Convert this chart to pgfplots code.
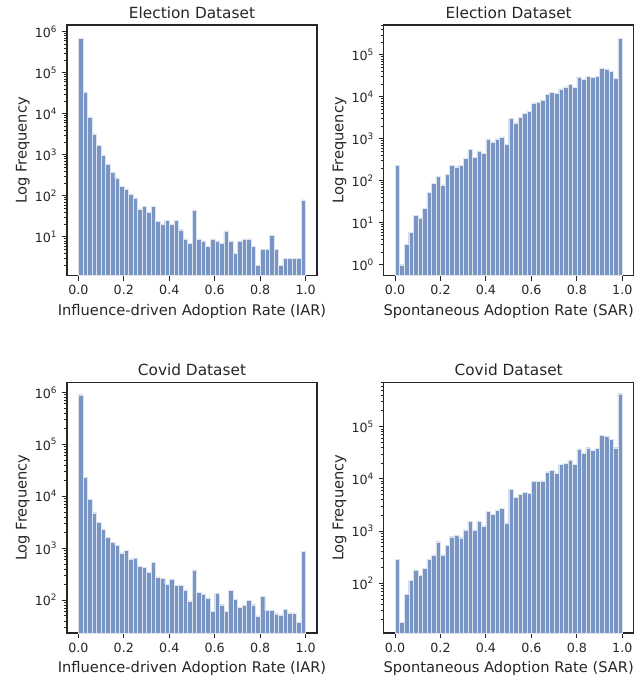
\documentclass[border=0pt]{standalone}
\usepackage{fontspec}
\setmainfont{DejaVu Sans}
\usepackage{pgfplots}
\usepackage{pgfplotstable}
\pgfplotsset{compat=1.18}
\usepgfplotslibrary{groupplots}
\definecolor{barblue}{HTML}{7895C4}
\definecolor{ink}{HTML}{262626}

% left bin edge, counts per bin (last row only closes the intervals)
\pgfplotstableread{
x    eiar   esar   ciar   csar
0.00 690000 236    900000 290
0.02 34000  1      23300  18
0.04 8450   3      8750   62
0.06 3250   6      4840   113
0.08 1720   15     3200   181
0.10 980    13     2310   141
0.12 605    22     1600   195
0.14 378    54     1300   290
0.16 275    88     1135   351
0.18 172    129    819    625
0.20 148    80     922    351
0.22 108    142    627    540
0.24 89     232    656    781
0.26 48     215    446    841
0.28 56     236    434    747
0.30 41     340    352    1050
0.32 56     557    541    1520
0.34 24     359    282    1050
0.36 20     518    266    1520
0.38 25     456    204    1253
0.40 20     1000   258    2400
0.42 25     849    195    2100
0.44 15     1000   192    2510
0.46 9      1116   158    2700
0.48 7      733    97     1430
0.50 45     3050   385    6280
0.52 9      2405   141    4400
0.54 8      3220   132    5030
0.56 6      4010   111    5580
0.58 9      4560   62     5340
0.60 8      7200   134    8960
0.62 7      7470   82     8960
0.64 14     8490   62     9100
0.66 8      11370  156    13560
0.68 4      12680  103    14600
0.70 8      12220  74     12590
0.72 9      15490  81     18780
0.74 9      17290  100    19640
0.76 6      20030  82     23100
0.78 2      17000  50     18780
0.80 5      29930  119    37570
0.82 5      25870  63     31480
0.84 11     30480  63     39350
0.86 5      29380  55     36000
0.88 2      31040  52     38760
0.90 3      48170  66     67960
0.92 3      46440  57     66000
0.94 3      40100  57     56900
0.96 3      27350  38     39350
0.98 80     244800 869    425600
1.00 1      1      1      1
}\hist

\begin{document}
\begin{tikzpicture}
\begin{groupplot}[
  group style={group size=2 by 2, horizontal sep=50pt, vertical sep=80pt},
  scale only axis, width=187.5pt, height=188pt,
  ymode=log, log origin y=infty,
  xmin=-0.05, xmax=1.05,
  xtick={0,0.2,0.4,0.6,0.8,1}, xticklabels={0.0,0.2,0.4,0.6,0.8,1.0},
  minor ytick={2,3,4,5,6,7,8,9,20,30,40,50,60,70,80,90,200,300,400,500,600,700,800,900,
    2000,3000,4000,5000,6000,7000,8000,9000,20000,30000,40000,50000,60000,70000,80000,90000,
    200000,300000,400000,500000,600000,700000,800000,900000},
  tick align=outside, xtick pos=left, ytick pos=left,
  major tick length=3.75pt, minor tick length=2.2pt,
  every major tick/.style={ink, line width=0.8pt},
  every minor tick/.style={ink, line width=0.6pt},
  axis line style={ink, line width=0.9pt},
  tick label style={font=\fontsize{9.5}{11}\selectfont, text=ink},
  label style={font=\fontsize{11}{13}\selectfont, text=ink},
  title style={font=\fontsize{11.5}{13}\selectfont, text=ink, yshift=-4.5pt},
  ylabel={Log Frequency}, ylabel shift=-3pt,
  /pgf/number format/assume math mode=true,
  hist/.style={ybar interval, /pgf/bar interval width=1, fill=barblue, draw=white!75!barblue, line width=0.25pt},
]
\nextgroupplot[title={Election Dataset}, xlabel={Influence-driven Adoption Rate (IAR)},
  ymin=1.14, ymax=1.45e6, ytick={10,100,1000,10000,100000,1000000},
  yticklabels={10\textsuperscript{1},10\textsuperscript{2},10\textsuperscript{3},10\textsuperscript{4},10\textsuperscript{5},10\textsuperscript{6}}]
\addplot[hist] table[x=x, y=eiar] {\hist};

\nextgroupplot[title={Election Dataset}, xlabel={Spontaneous Adoption Rate (SAR)},
  ymin=0.547, ymax=5.18e5, ytick={1,10,100,1000,10000,100000},
  yticklabels={10\textsuperscript{0},10\textsuperscript{1},10\textsuperscript{2},10\textsuperscript{3},10\textsuperscript{4},10\textsuperscript{5}}]
\addplot[hist] table[x=x, y=esar] {\hist};

\nextgroupplot[title={Covid Dataset}, xlabel={Influence-driven Adoption Rate (IAR)},
  ymin=23.4, ymax=1.56e6, ytick={100,1000,10000,100000,1000000},
  yticklabels={10\textsuperscript{2},10\textsuperscript{3},10\textsuperscript{4},10\textsuperscript{5},10\textsuperscript{6}}]
\addplot[hist] table[x=x, y=ciar] {\hist};

\nextgroupplot[title={Covid Dataset}, xlabel={Spontaneous Adoption Rate (SAR)},
  ymin=11.2, ymax=7.03e5, ytick={100,1000,10000,100000},
  yticklabels={10\textsuperscript{2},10\textsuperscript{3},10\textsuperscript{4},10\textsuperscript{5}}]
\addplot[hist] table[x=x, y=csar] {\hist};
\end{groupplot}
\pgfresetboundingbox
\path[use as bounding box] ([shift={(-50.25pt,18.75pt)}]group c1r1.north west) rectangle ([shift={(6.75pt,-33pt)}]group c2r2.south east);
\end{tikzpicture}
\end{document}
